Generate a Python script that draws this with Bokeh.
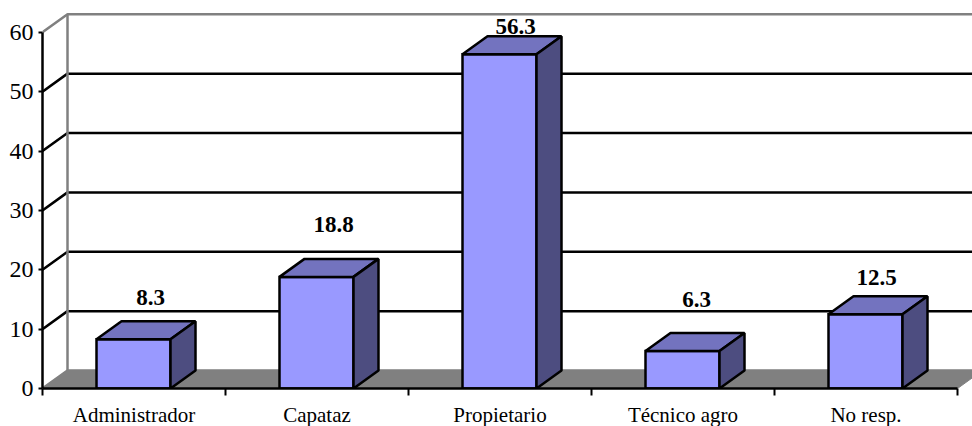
from bokeh.embed import file_html
from bokeh.models import FixedTicker, Range1d
from bokeh.plotting import figure
from bokeh.resources import INLINE
from bokeh.core.properties import value

categories = ["Administrador", "Capataz", "Propietario", "Técnico agro", "No resp."]
values = [8.3, 18.8, 56.3, 6.3, 12.5]
y_ticks = [0, 10, 20, 30, 40, 50, 60]

# label placement relative to each bar's back-top corner region (pixels)
label_dx = [-8, -8, -9, -11, -14]
label_lift = [24, 34, 10, 34, 19]

FONT = "Liberation Serif"
FRONT, TOP, SIDE = "#9999FF", "#7373BF", "#4D4D80"
GREY = "#808080"

DX = 25 / 183          # 3-D depth in category units
DY = 18 / 5.9375       # 3-D depth in value units
BAR_L, BAR_W = 54 / 183, 74 / 183
N = len(categories)
X_END = 930 / 183

p = figure(frame_width=930, frame_height=380, output_backend="svg", toolbar_location=None,
           x_range=Range1d(0, X_END), y_range=Range1d(0, 64),
           min_border_left=42, min_border_right=0, min_border_top=8, min_border_bottom=38,
           outline_line_color=None, background_fill_color="white", border_fill_color="white")
p.grid.visible = False

# axes
xa = p.xaxis[0]
centers = [i + 0.5 for i in range(N)]
xa.ticker = FixedTicker(ticks=centers, minor_ticks=list(range(N + 1)))
xa.major_label_overrides = {c: n for c, n in zip(centers, categories)}
xa.bounds = (0, N)
xa.axis_line_color = "black"
xa.axis_line_width = 2.5
xa.major_tick_out = 0
xa.major_tick_in = 0
xa.minor_tick_out = 7
xa.minor_tick_in = 0
xa.minor_tick_line_color = "black"
xa.minor_tick_line_width = 2
xa.major_label_standoff = 7
xa.major_label_text_font = FONT
xa.major_label_text_font_size = "21px"
xa.major_label_text_color = "black"

ya = p.yaxis[0]
ya.ticker = FixedTicker(ticks=y_ticks)
ya.bounds = (0, 60)
ya.axis_line_color = "black"
ya.axis_line_width = 2.5
ya.major_tick_out = 4
ya.major_tick_in = 0
ya.major_tick_line_color = "black"
ya.major_tick_line_width = 2
ya.minor_tick_out = 0
ya.minor_tick_in = 0
ya.major_label_standoff = 5
ya.major_label_text_font = FONT
ya.major_label_text_font_size = "24px"
ya.major_label_text_color = "black"

# floor
p.patch([0, N, N + DX, DX], [0, 0, DY, DY], fill_color=GREY, line_color=GREY, line_width=1)

# walls and gridlines
for t in y_ticks:
    color = "black" if t not in (0, 60) else GREY
    p.line([0, DX, X_END], [t, t + DY, t + DY], line_color=color, line_width=2.5)
p.line([DX, DX], [DY, 60 + DY], line_color=GREY, line_width=2.5)

# bars
for i, v in enumerate(values):
    l = i + BAR_L
    r = l + BAR_W
    p.patch([l, r, r, l], [0, 0, v, v], fill_color=FRONT, line_color="black", line_width=2.5, line_join="miter")
    p.patch([l, r, r + DX, l + DX], [v, v, v + DY, v + DY], fill_color=TOP, line_color="black", line_width=2.5)
    p.patch([r, r + DX, r + DX, r], [0, DY, v + DY, v], fill_color=SIDE, line_color="black", line_width=2.5)

# value labels
for i, v in enumerate(values):
    p.text([i + BAR_L + BAR_W / 2 + DX], [v + DY], text=[f"{v:.1f}"],
           x_offset=label_dx[i], y_offset=-label_lift[i],
           text_font=value(FONT), text_font_style="bold", text_font_size="23px",
           text_color="black", text_align="center", text_baseline="middle")

open("out.html", "w").write(file_html(p, INLINE))
